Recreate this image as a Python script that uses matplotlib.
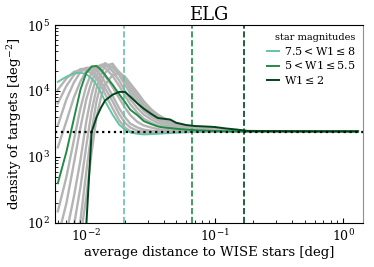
import matplotlib
matplotlib.use("Agg")
import matplotlib.pyplot as plt

plt.rcParams["font.family"] = "DejaVu Serif"
plt.rcParams["mathtext.fontset"] = "dejavuserif"

# bin centres [deg]
dist = [0.006, 0.007, 0.008, 0.009, 0.010, 0.011, 0.012, 0.013, 0.014, 0.016,
        0.018, 0.020, 0.022, 0.025, 0.028, 0.032, 0.036, 0.040, 0.045, 0.050,
        0.060, 0.070, 0.085, 0.10, 0.12, 0.15, 0.18, 0.25, 0.40, 0.70, 1.0, 1.3]

# highlighted magnitude bins
dens_faint = [13800, 16500, 18500, 19000, 18000, 15500, 12500, 9500, 7000, 4400,
              3100, 2600, 2350, 2250, 2200, 2220, 2250, 2280, 2300, 2330,
              2370, 2400, 2420, 2430, 2440, 2440, 2440, 2440, 2440, 2440, 2440, 2440]
dens_mid = [400, 1200, 3800, 10500, 19000, 23500, 24000, 21000, 17500, 12500,
            9000, 6800, 5200, 4300, 3500, 3150, 2900, 2800, 2740, 2680,
            2600, 2550, 2510, 2480, 2460, 2450, 2450, 2440, 2440, 2440, 2440, 2440]
dens_bright = [10, 15, 25, 45, 95, 2400, 4000, 5600, 7200, 8800,
               9700, 9700, 8200, 6500, 5400, 4500, 3900, 3800, 3700, 3300,
               3050, 2950, 2900, 2850, 2720, 2600, 2480, 2470, 2460, 2450, 2450, 2450]

# other magnitude bins (grey)
grey_curves = [
    [10500, 15500, 19500, 21000, 20500, 18500, 15500, 12000, 9000, 5500,
     3600, 2800, 2450, 2300, 2280, 2300, 2330, 2360, 2380, 2400,
     2420, 2430, 2440, 2440, 2440, 2440, 2440, 2440, 2440, 2440, 2440, 2440],
    [6500, 12000, 17500, 21500, 22000, 20500, 17500, 14000, 11000, 7000,
     4500, 3300, 2800, 2500, 2420, 2400, 2400, 2410, 2420, 2430,
     2440, 2440, 2440, 2440, 2440, 2440, 2440, 2440, 2440, 2440, 2440, 2440],
    [3000, 7500, 13500, 19500, 22500, 22500, 20500, 17000, 13500, 8500,
     5500, 4000, 3200, 2800, 2600, 2500, 2470, 2460, 2450, 2450,
     2450, 2450, 2450, 2450, 2450, 2450, 2450, 2450, 2450, 2450, 2450, 2450],
    [1400, 3500, 8000, 14000, 20000, 23500, 23500, 20500, 17000, 11500,
     7800, 5600, 4300, 3400, 3000, 2800, 2650, 2580, 2540, 2510,
     2480, 2460, 2450, 2450, 2450, 2450, 2450, 2450, 2450, 2450, 2450, 2450],
    [150, 500, 1800, 5500, 12000, 19000, 23500, 24500, 22500, 17000,
     12000, 8500, 6300, 4700, 3800, 3300, 3000, 2850, 2750, 2650,
     2570, 2520, 2490, 2470, 2460, 2450, 2450, 2450, 2450, 2450, 2450, 2450],
    [60, 200, 800, 2800, 7500, 14000, 21000, 25000, 25500, 20000,
     14500, 10000, 7500, 5500, 4400, 3700, 3300, 3050, 2900, 2780,
     2650, 2570, 2520, 2490, 2470, 2460, 2450, 2450, 2450, 2450, 2450, 2450],
    [30, 70, 250, 900, 3500, 9000, 16500, 23000, 26500, 22500,
     17500, 12500, 9200, 6500, 5000, 4100, 3600, 3300, 3100, 2950,
     2750, 2650, 2580, 2520, 2490, 2470, 2460, 2450, 2450, 2450, 2450, 2450],
    [20, 40, 90, 350, 1500, 5000, 11000, 18000, 24000, 26000,
     19000, 14500, 10500, 7500, 5700, 4500, 3900, 3500, 3250, 3050,
     2850, 2720, 2620, 2560, 2510, 2480, 2460, 2450, 2450, 2450, 2450, 2450],
    [15, 25, 50, 110, 600, 2500, 7000, 13000, 19000, 24000,
     19500, 16000, 12000, 8500, 6300, 4900, 4200, 3700, 3400, 3150,
     2900, 2780, 2680, 2600, 2540, 2500, 2470, 2450, 2450, 2450, 2450, 2450],
    [10, 15, 30, 60, 250, 1200, 4000, 8000, 12500, 17500,
     18500, 16500, 13000, 9500, 7000, 5300, 4400, 3900, 3550, 3300,
     3000, 2850, 2750, 2680, 2600, 2530, 2480, 2460, 2450, 2450, 2450, 2450],
]

mean_density = 2400
radius_faint = 0.0197
radius_mid = 0.0667
radius_bright = 0.169

c_faint = "#66c2a4"
c_mid = "#238b45"
c_bright = "#00441b"

fig = plt.figure(figsize=(3.74, 2.67), dpi=100)
ax = fig.add_axes([0.147, 0.165, 0.824, 0.741])

for ys in grey_curves:
    ax.plot(dist, ys, color="#b4b4b4", lw=1.7, zorder=1)

ax.plot(dist, dens_faint, color=c_faint, lw=1.4, label=r"$7.5 < {\rm W1} \leq 8$", zorder=3)
ax.plot(dist, dens_mid, color=c_mid, lw=1.4, label=r"$5 < {\rm W1} \leq 5.5$", zorder=3)
ax.plot(dist, dens_bright, color=c_bright, lw=1.4, label=r"${\rm W1} \leq 2$", zorder=3)

ax.axvline(radius_faint, color=c_faint, ls="--", lw=1.2, zorder=2)
ax.axvline(radius_mid, color=c_mid, ls="--", lw=1.2, zorder=2)
ax.axvline(radius_bright, color=c_bright, ls="--", lw=1.2, zorder=2)
ax.axhline(mean_density, color="black", ls=":", lw=1.6, zorder=4)

ax.set_xscale("log")
ax.set_yscale("log")
ax.set_xlim(0.0057, 1.43)
ax.set_ylim(1e2, 1e5)
ax.tick_params(which="both", direction="in", labelsize=9)
ax.spines["right"].set_color("#909090")

ax.set_title("ELG", fontsize=13, pad=4)
ax.set_xlabel("average distance to WISE stars [deg]", fontsize=9.5, labelpad=2)
ax.set_ylabel(r"density of targets [deg$^{-2}$]", fontsize=9.5, labelpad=2)

leg = ax.legend(title="star magnitudes", loc="upper right", frameon=False,
                fontsize=8, title_fontsize=7, handlelength=1.1,
                handletextpad=0.4, labelspacing=0.25, borderaxespad=0.3)
leg._legend_box.align = "right"

fig.savefig("out.png", dpi=100)
